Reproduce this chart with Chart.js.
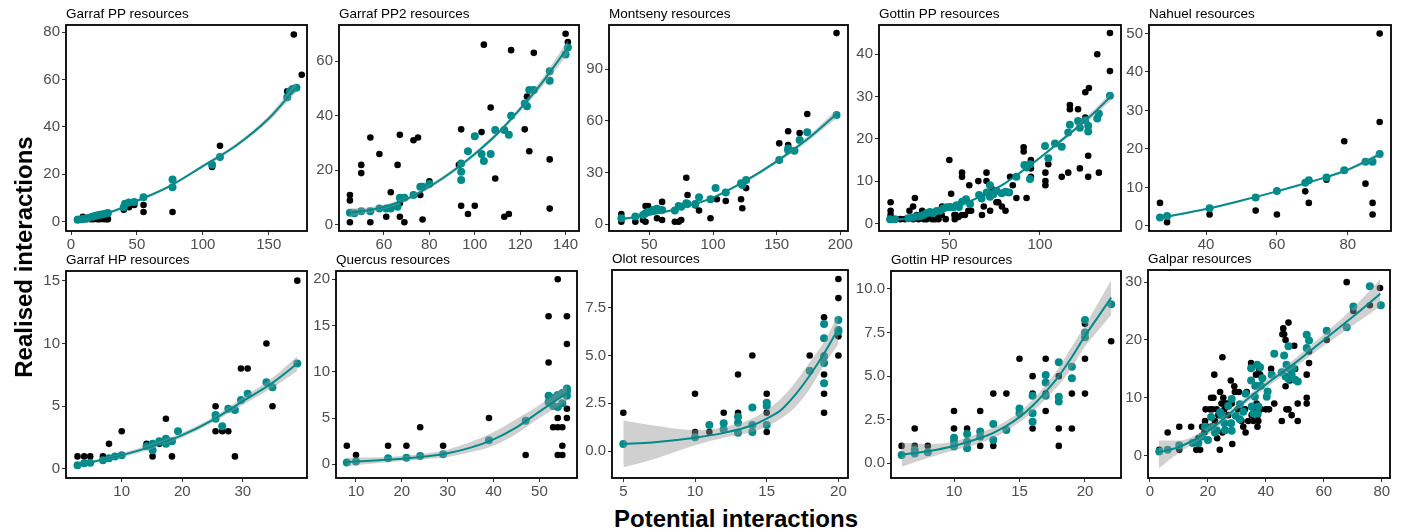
<!DOCTYPE html>
<html><head><meta charset="utf-8">
<script src="https://cdn.jsdelivr.net/npm/chart.js@4.4.0/dist/chart.umd.min.js"></script>
<style>
html,body{margin:0;padding:0;background:#fff;}
#wrap{position:relative;width:1406px;height:532px;overflow:hidden;font-family:"Liberation Sans",Arial,sans-serif;}
canvas{position:absolute;}
.ttl{position:absolute;font-size:13.5px;line-height:13px;color:#000;white-space:nowrap;}
.axt{position:absolute;font-size:24px;font-weight:bold;line-height:24px;white-space:nowrap;text-align:center;color:#000;}
</style></head><body><div id="wrap"></div>
<script>
// ---------- DATA ----------
const titles = ["Garraf PP resources","Garraf PP2 resources","Montseny resources","Gottin PP resources","Nahuel resources",
                "Garraf HP resources","Quercus resources","Olot resources","Gottin HP resources","Galpar resources"];

// Garraf PP
const p1Obs = [[169,79],[175,62],[164,55],[113,32],[107,23],[77,4],[55,7],[55,4],[44,6],[40,5],[48,7],[9,2],[12,1],[15,1],[17,1],[20,1],[22,1],[25,1],[27,1],[28,1],[5,1],[10,1]];
const p1Fit = [[5,0.7],[8,1],[10,1.2],[13,1.5],[16,2],[18,2.3],[20,2.6],[22,2.9],[24,3.1],[26,3.3],[28,3.6],[40,6],[41,7.5],[44,8],[48,8.3],[55,10.3],[77,17.8],[77,14.5],[107,24],[113,27.2],[164,52.5],[166,55],[168,56],[171,56.5]];
const p1LineX = [5,20,35,50,75,100,125,150,171];
const p1LineY = [0.8,2.5,5,8.7,15,23.4,32,43.5,56.8];
const p1RibLo = [0.5,2.2,4.6,8.2,14.4,22.7,31.2,42.3,54.8];
const p1RibHi = [1.1,2.8,5.4,9.2,15.6,24.1,32.8,44.7,58.8];
const p1XTicks = [0,50,100,150], p1YTicks = [0,20,40,60,80];

// Garraf PP2
const p2Obs = [[45,11],[45,9],[45,1],[50,22],[50,19],[54,32],[54,1],[58,26],[61,3],[63,12],[66,22],[67,33],[67,3],[67,8],[69,1],[73,31],[75,32],[76,11],[77,2],[80,16],[93,22],[94,35],[94,7],[97,4],[100,7],[103,34],[104,66],[107,43],[109,17],[113,3],[115,4],[116,64],[122,35],[123,47],[124,27],[126,63],[133,24],[133,6],[140,70],[141,67]];
const p2Fit = [[45,4.5],[47,4.3],[50,5],[54,5],[58,6],[61,6],[63,6],[66,6.7],[67,10],[69,10],[73,11],[76,14],[77,14],[80,15],[94,19.5],[94,22.5],[94,16.5],[97,27],[100,32.5],[103,26],[104,23.4],[107,26],[109,34.8],[113,34.8],[115,33],[116,40],[122,44.5],[123,43.5],[124,49.4],[126,49.4],[133,56.3],[133,52.8],[140,62.4],[141,65]];
const p2LineX = [45,50,60,70,80,90,100,110,120,130,141];
const p2LineY = [4.5,5,6.6,9.5,14,19.5,26,33.5,42.5,52.5,65];
const p2RibLo = [3.0,3.8,5.8,8.8,13.3,18.8,25.3,32.7,41.5,51,62.5];
const p2RibHi = [6.0,6.2,7.4,10.2,14.7,20.2,26.7,34.3,43.5,54,67.5];
const p2XTicks = [60,80,100,120,140], p2YTicks = [0,20,40,60];

// Montseny
const p3Obs = [[28,6],[28,1.5],[39,1.5],[45,4.5],[45,2.5],[47,10.6],[49,10.6],[47,1.5],[56,3.5],[60,13],[60,2.5],[70,1.5],[73,1.5],[75,2.5],[79,27],[80,17],[86,11],[89,8],[98,3.5],[103,14.5],[110,13.5],[122,14.5],[123,9.3],[126,21],[152,47],[159,54],[159,46],[168,53],[174,64],[197,111]];
const p3Fit = [[28,3.5],[39,4.5],[45,5.4],[47,6.4],[49,7.3],[53,8.3],[56,9],[60,8.3],[70,8],[73,10.6],[75,10.2],[79,12.2],[80,11.8],[86,11.8],[89,15.7],[98,14.5],[102,21],[110,18.4],[122,23.8],[123,22.8],[126,25.7],[152,37.3],[159,44],[159,43],[164,42.7],[168,49],[174,53.4],[197,63.4]];
const p3LineX = [28,50,75,100,125,150,175,197];
const p3LineY = [3,5.5,9.5,15.5,25,36.5,50,64];
const p3RibLo = [2.2,5,9,15,24.2,35.5,48.5,61.5];
const p3RibHi = [3.8,6,10,16,25.8,37.5,51.5,66.5];
const p3XTicks = [50,100,150,200], p3YTicks = [0,30,60,90];

// Gottin PP
const p4Obs = [[17.6,5],[17.6,3],[17.6,2],[23,1],[25.5,1],[28,3],[30,4],[31,6],[30,1],[32,2],[33,1],[35,3],[36,1],[36.6,2],[37.5,1],[39,2],[40.6,1],[42,1],[43,2],[44,1],[45.8,2],[46,4],[48,1],[50,15],[51,7],[52.8,2],[53,1],[53.5,2],[55,4],[55,1.5],[57,2],[57,12],[57,11],[58.6,2],[60.5,3],[61,9],[62,3],[66,10],[68,2],[69,4],[70.5,12],[70.5,10],[72.5,3],[74,8],[76,5],[77,5],[79,4],[81,3],[83.5,11],[85,9],[87,6],[91,18],[91,17],[92.6,6],[95,15],[95,13],[95,11],[103,9],[103,10],[103,12],[104.6,14],[112,11],[115.6,12],[116.5,28],[116.5,27],[121,27],[122,13],[125,25],[125,31],[127,32],[126.6,16],[126.6,11],[131.6,40],[132.5,12],[138.6,45],[138.6,36]];
const p4Fit = [[17.3,1],[20,1],[27.4,1.2],[29.6,1.4],[32,1.6],[33.8,1.7],[35.7,2],[37.5,2.4],[39.3,2.7],[41,2.4],[43,2.9],[44.9,3],[46.7,3.5],[48.5,3.8],[50.4,3.9],[52.2,3.8],[54,4.3],[55.3,3.9],[57,5.1],[59.2,5.7],[61.4,4.6],[66.4,6.7],[67.8,5.9],[70.6,7.3],[72.4,9],[72.4,6.3],[74.3,6.9],[76,7.7],[78.9,7.1],[81,7.5],[83,7.3],[87,11],[91.4,13.8],[92.6,13.2],[94.5,14],[94.5,10.5],[102.8,18.3],[104.6,15.4],[108.3,18.9],[112,18.1],[115.6,21.5],[116.5,23.3],[121,24.2],[122,22.6],[125,24.4],[126.6,21.7],[126.6,23.1],[131.6,24.8],[132.5,25.9],[138.6,30.2]];
const p4LineX = [17,30,40,50,60,70,80,90,100,110,120,130,139];
const p4LineY = [0.8,1.3,2.2,3.5,5,7,9.3,12.3,15.5,19,22.5,26.2,30];
const p4RibLo = [0.5,1.1,2,3.3,4.8,6.8,9.1,12.1,15.2,18.6,22,25.5,29];
const p4RibHi = [1.1,1.5,2.4,3.7,5.2,7.2,9.5,12.5,15.8,19.4,23,26.9,31];
const p4XTicks = [50,100], p4YTicks = [0,10,20,30,40];

// Nahuel
const p5Obs = [[27,6],[29,1],[41,3],[54,4],[60,3],[68,9],[69,6],[74,12],[79,22],[85,11],[87,6],[87,3],[89,27],[89,50]];
const p5Fit = [[27,2.2],[29,2.6],[41,4.6],[54,7.4],[60,9.1],[68,11.2],[69,11.9],[74,12.6],[79,14.5],[85,16.7],[87,16.7],[89,18.7]];
const p5LineX = [27,40,50,60,70,80,89];
const p5LineY = [2.1,4.4,6.6,9,11.6,14.6,18.6];
const p5RibLo = [1.8,4.2,6.4,8.8,11.4,14.3,18];
const p5RibHi = [2.4,4.6,6.8,9.2,11.8,14.9,19.2];
const p5XTicks = [40,60,80], p5YTicks = [0,10,20,30,40,50];

// Garraf HP
const p6Obs = [[2.7,1],[3.8,1],[4.8,1],[6.9,1],[7.9,2],[10,3],[14.1,2],[15.1,1],[16.2,2],[17.3,4],[18.3,1],[25.5,5],[25.5,3],[26.6,3],[27.6,3],[28.7,1],[29.7,8],[30.8,8],[33.9,10],[34.9,5],[39,15]];
const p6Fit = [[2.7,0.3],[3.8,0.45],[4.8,0.5],[6.9,0.7],[7.9,0.85],[8.9,1],[10,1.1],[14.1,1.8],[15.1,1.5],[15.1,2],[16.2,2.2],[17.3,2.4],[17.3,2],[18.3,2.2],[19.3,3],[25.5,4],[25.5,4.3],[26.6,3.4],[27.6,4.8],[28.7,4.7],[29.7,5.5],[30.8,6],[33.9,6.9],[34.9,6.5],[39,8.4]];
const p6LineX = [2.7,10,15,20,25,30,35,39];
const p6LineY = [0.3,1.1,1.8,2.7,3.9,5.4,6.9,8.4];
const p6RibLo = [0.2,0.95,1.6,2.5,3.7,5.1,6.5,7.8];
const p6RibHi = [0.4,1.25,2.0,2.9,4.1,5.7,7.3,9.0];
const p6XTicks = [10,20,30], p6YTicks = [0,5,10,15];

// Quercus
const p7Obs = [[8,2],[10,1],[17,2],[21,2],[24,4],[29,2],[39,5],[47,1],[52,11],[52,16],[54,20],[53,4],[54,5],[54,4],[54,1],[55,4],[55,2],[55,1],[56,16],[56,13],[56,6],[56,5]];
const p7Fit = [[8,0.2],[10,0.3],[17,0.65],[21,0.7],[24,0.9],[29,1.1],[39,2.6],[47,4.7],[52,7.4],[52,6.7],[53,6.3],[53,7.2],[54,7.5],[54,6.2],[55,7.7],[55,6.6],[56,8.2],[56,7.4],[56,7.9]];
const p7LineX = [8,15,20,25,30,35,40,45,50,56];
const p7LineY = [0.25,0.45,0.6,0.85,1.2,1.8,2.7,4.0,5.7,7.7];
const p7RibLo = [-0.2,0.15,0.35,0.55,0.8,1.3,2.0,3.3,5.0,6.8];
const p7RibHi = [0.7,0.75,0.9,1.15,1.6,2.4,3.5,4.9,6.4,8.6];
const p7XTicks = [10,20,30,40,50], p7YTicks = [0,5,10,15,20];

// Olot
const p8Obs = [[5,2],[10,3],[10,1],[11,1],[12,2],[13,4],[13,2],[14,5],[15,3],[15,2],[15,1],[18,5],[19,7],[19,5],[19,4],[19,3],[19,2],[20,9],[20,8],[20,6],[20,5]];
const p8Fit = [[5,0.37],[10,0.72],[11,1.36],[12,1.45],[12,1.13],[13,1.8],[13,1.48],[13,0.96],[14,2.28],[14,1.36],[14,1.0],[15,2.53],[15,2.35],[15,1.36],[18,4.2],[19,6.65],[19,5.9],[19,4.94],[19,4.6],[19,3.54],[20,6.86],[20,6.33],[20,6.25]];
const p8LineX = [5,7,10,12,14,15,16,17,18,19,20];
const p8LineY = [0.37,0.45,0.7,0.95,1.35,1.7,2.15,2.95,3.95,5.1,6.4];
const p8RibLo = [-0.85,-0.45,0.3,0.7,1.0,1.3,1.7,2.3,3.25,4.5,5.6];
const p8RibHi = [1.6,1.35,1.1,1.25,1.7,2.15,2.75,3.6,4.65,5.7,7.2];
const p8XTicks = [5,10,15,20], p8YTicks = [0,2.5,5,7.5];

// Gottin HP
const p9Obs = [[6,1],[7,2],[7,1],[8,1],[10,3],[10,2],[11,2],[12,3],[12,1],[13,4],[13,1],[14,4],[15,6],[16,5],[16,4],[16,2],[17,6],[17,4],[17,3],[18,5],[18,2],[18,1],[19,4],[19,2],[20,8],[20,6],[20,4],[22,7]];
const p9Fit = [[6,0.48],[7,0.57],[7,0.76],[8,0.63],[10,0.96],[10,1.24],[10,1.47],[11,0.86],[11,1.24],[11,1.68],[12,1.53],[12,1.82],[13,1.34],[13,2.26],[14,1.91],[15,3.15],[15,2.87],[16,3.88],[16,2.87],[16,2.39],[17,5.07],[17,4.63],[17,3.88],[18,5.8],[18,3.82],[18,3.54],[19,5.54],[19,4.88],[20,8.22],[20,7.51],[20,7.23],[22,9.12]];
const p9LineX = [6,8,10,12,13,14,15,16,17,18,19,20,21,22];
const p9LineY = [0.5,0.7,1.0,1.45,1.75,2.15,2.65,3.3,4.1,5.0,6.1,7.3,8.4,9.5];
const p9RibLo = [-0.2,0.3,0.75,1.15,1.45,1.85,2.35,2.95,3.7,4.5,5.5,6.7,7.6,8.5];
const p9RibHi = [1.2,1.1,1.25,1.75,2.05,2.45,2.95,3.65,4.5,5.5,6.7,7.9,9.2,10.5];
const p9XTicks = [10,15,20], p9YTicks = [0,2.5,5,7.5,10];

// Galpar
const p10Obs = [[3.2,1],[6.1,4],[10.1,5],[10.1,1],[14.2,5],[16.7,3],[18,5],[16,1],[17.3,1],[18.8,4],[19,6],[19.2,8],[19.9,5],[20.7,8],[21.1,10],[21.5,8],[21.9,10],[22.2,14],[22.4,6],[23,8],[23.2,3],[23.6,7],[24.1,1],[24.2,11],[24.7,9],[25,17],[25,4],[25.3,10],[25.7,8],[25.9,9],[26.5,9],[27,7],[27.9,13],[28.2,9],[28.4,2],[29.1,12],[29.3,11],[30.3,8],[30.7,11],[31.6,6],[32.2,5],[32.8,8],[33,4],[33.4,11],[33.9,6],[34.9,16],[35.1,7],[35.7,6],[35.9,8],[36.2,12],[36.6,14],[36.8,9],[37.1,5],[37.2,7],[37.4,6],[37.6,15],[38,14],[38.3,8],[40,8],[41.1,8],[41.8,15],[42.9,9],[45.5,6],[45.7,21],[46.3,21],[46,22],[46.8,20],[46.8,12],[47.1,8],[47.8,8],[47.8,23],[48.3,13],[48.9,7],[49.8,19],[50.1,15],[51,9],[51,6],[54.1,10],[54.1,9],[54.1,14],[54.9,16],[54.9,18],[61,20],[67.9,30],[70.2,25],[75.9,26],[79.4,29]];
const p10Fit = [[3.2,0.7],[6.1,1],[10.1,1.8],[14.7,2.2],[16.7,2.2],[18,3.3],[19,5],[20,2.7],[21.1,6.7],[21.5,5],[22.4,4],[23,4.4],[24.2,7.5],[24.7,7],[25.7,5.6],[25.9,4.4],[27,8.6],[28,5.6],[28.2,4.3],[28.2,9.8],[29.6,6.9],[31,8.9],[31,6.3],[32.2,7.6],[33,10.7],[34.9,15.1],[34.9,13],[35.1,8.5],[35.7,7.3],[36.2,10.2],[36.6,12.1],[37,15.7],[37.2,7.3],[37.4,8.5],[38,15.3],[38.3,12.1],[38.8,13.4],[40.3,10.2],[40.6,11.1],[42,14],[42.9,17.6],[45.5,14.4],[46.3,17.3],[46.8,13.7],[47.1,15.7],[47.8,18.9],[47.8,13.3],[48.3,15],[48.9,14],[49.5,15.1],[50.1,13.1],[51,12.8],[54.1,20.9],[54.1,18.6],[54.9,19.9],[61,21.6],[67.9,22.2],[70.2,25.8],[75.9,29.3],[79.7,26]];
const p10LineX = [3,10,20,30,40,50,60,70,79.5];
const p10LineY = [0.6,1.5,4.2,8.3,12.3,16,20,24,28];
const p10RibLo = [-2.2,0.5,3.6,7.8,11.7,15.3,19,22.5,25.8];
const p10RibHi = [2.6,2.6,4.9,8.8,12.9,16.8,21,25.5,30.5];
const p10XTicks = [0,20,40,60,80], p10YTicks = [0,10,20,30];

// axis limits [xmin,xmax,ymin,ymax]
const limits = [
  [-3.8,179,-4,83],[40.2,145.9,-2.2,73.2],[18.3,206,-3.9,115.7],[11.2,144.7,-1.8,46.9],[23.9,92.2,-1.3,52.2],
  [0.8,40.6,-0.72,15.77],[5.64,58.2,-1.48,20.9],[4.21,20.67,-1.41,9.47],[5.19,22.75,-0.84,11.03],[-0.69,82.85,-3.87,32.1]
];
const yDecimals = [0,0,0,0,0,0,0,1,1,0];

// ---------- LAYOUT (panel boxes L,T,R,B) ----------
const boxes = [
  [66,25,307,231],[339,25,579,231],[609,25,848,231],[879,25,1121,231],[1149,25,1391,231],
  [66,271,307,478],[336,271,577,478],[612,270,848,478],[891,271,1121,478],[1148,270,1390,478]
];
const TEAL = '#008b8b';
const FONT = '"Liberation Sans", Arial, sans-serif';
const WY = 44, HX = 26, PT = 12, PR = 24;

const panels = [
  [p1Obs,p1Fit,p1LineX,p1LineY,p1RibLo,p1RibHi,p1XTicks,p1YTicks],
  [p2Obs,p2Fit,p2LineX,p2LineY,p2RibLo,p2RibHi,p2XTicks,p2YTicks],
  [p3Obs,p3Fit,p3LineX,p3LineY,p3RibLo,p3RibHi,p3XTicks,p3YTicks],
  [p4Obs,p4Fit,p4LineX,p4LineY,p4RibLo,p4RibHi,p4XTicks,p4YTicks],
  [p5Obs,p5Fit,p5LineX,p5LineY,p5RibLo,p5RibHi,p5XTicks,p5YTicks],
  [p6Obs,p6Fit,p6LineX,p6LineY,p6RibLo,p6RibHi,p6XTicks,p6YTicks],
  [p7Obs,p7Fit,p7LineX,p7LineY,p7RibLo,p7RibHi,p7XTicks,p7YTicks],
  [p8Obs,p8Fit,p8LineX,p8LineY,p8RibLo,p8RibHi,p8XTicks,p8YTicks],
  [p9Obs,p9Fit,p9LineX,p9LineY,p9RibLo,p9RibHi,p9XTicks,p9YTicks],
  [p10Obs,p10Fit,p10LineX,p10LineY,p10RibLo,p10RibHi,p10XTicks,p10YTicks]
];

const boxPlugin = {
  id:'box',
  afterDraw(chart){
    const a = chart.chartArea, ctx = chart.ctx;
    ctx.save(); ctx.strokeStyle = '#000'; ctx.lineWidth = 1.8;
    ctx.strokeRect(a.left, a.top, a.right - a.left, a.bottom - a.top);
    ctx.restore();
  }
};

const wrap = document.getElementById('wrap');
const pts = (arr) => arr.map(p => ({x:p[0], y:p[1]}));
const zip = (xs, ys) => xs.map((x,i) => ({x:x, y:ys[i]}));

panels.forEach((p, i) => {
  const [obs, fit, lx, ly, lo, hi, xt, yt] = p;
  const [L,T,R,B] = boxes[i];
  const lim = limits[i];
  const w = (R-L) + WY + PR, h = (B-T) + HX + PT;
  const c = document.createElement('canvas');
  c.width = w; c.height = h;
  c.style.left = (L - WY) + 'px'; c.style.top = (T - PT) + 'px';
  c.style.width = w + 'px'; c.style.height = h + 'px';
  wrap.appendChild(c);

  const t = document.createElement('div');
  t.className = 'ttl'; t.textContent = titles[i];
  t.style.left = L + 'px'; t.style.top = (T - 18) + 'px';
  wrap.appendChild(t);

  const dec = yDecimals[i];
  const tickFont = {size:15, family:FONT};
  new Chart(c, {
    type:'scatter',
    data:{datasets:[
      {type:'line', data:zip(lx,ly), borderColor:TEAL, borderWidth:2, pointRadius:0, pointHoverRadius:0, cubicInterpolationMode:'monotone', fill:false, order:0},
      {type:'line', data:zip(lx,hi), borderWidth:0, borderColor:'rgba(0,0,0,0)', pointRadius:0, pointHoverRadius:0, cubicInterpolationMode:'monotone', fill:'+1', backgroundColor:'rgba(150,150,150,0.45)', order:1},
      {type:'line', data:zip(lx,lo), borderWidth:0, borderColor:'rgba(0,0,0,0)', pointRadius:0, pointHoverRadius:0, cubicInterpolationMode:'monotone', fill:false, order:2},
      {data:pts(fit), backgroundColor:TEAL, borderWidth:0, pointRadius:4, pointHoverRadius:4, order:3},
      {data:pts(obs), backgroundColor:'#000', borderWidth:0, pointRadius:3.3, pointHoverRadius:3.3, order:4}
    ]},
    options:{
      responsive:false, animation:false, devicePixelRatio:1,
      layout:{padding:{top:PT, right:PR, left:0, bottom:0}, autoPadding:false},
      plugins:{legend:{display:false}, tooltip:{enabled:false}, title:{display:false}},
      events:[],
      scales:{
        x:{type:'linear', position:'bottom', min:lim[0], max:lim[1],
           afterBuildTicks:(s)=>{ s.ticks = xt.map(v=>({value:v})); },
           afterFit:(s)=>{ s.height = HX; },
           ticks:{color:'#4d4d4d', font:tickFont, padding:1, maxRotation:0, autoSkip:false, callback:(v)=>String(v)},
           grid:{display:true, drawOnChartArea:false, drawTicks:true, tickLength:4, color:'#333333', lineWidth:1},
           border:{display:false}},
        y:{type:'linear', position:'left', min:lim[2], max:lim[3],
           afterBuildTicks:(s)=>{ s.ticks = yt.map(v=>({value:v})); },
           afterFit:(s)=>{ s.width = WY; },
           ticks:{color:'#4d4d4d', font:tickFont, padding:2, autoSkip:false, callback:(v)=>Number(v).toFixed(dec)},
           grid:{display:true, drawOnChartArea:false, drawTicks:true, tickLength:4, color:'#333333', lineWidth:1},
           border:{display:false}}
      }
    },
    plugins:[boxPlugin]
  });
});

// axis titles
const xt = document.createElement('div');
xt.className = 'axt'; xt.textContent = 'Potential interactions';
xt.style.left = '436px'; xt.style.width = '600px'; xt.style.top = '507px';
wrap.appendChild(xt);
const yt = document.createElement('div');
yt.className = 'axt'; yt.textContent = 'Realised interactions';
yt.style.width = '300px'; yt.style.height = '24px';
yt.style.left = (24 - 150) + 'px'; yt.style.top = (257 - 12) + 'px';
yt.style.transform = 'rotate(-90deg)';
wrap.appendChild(yt);
</script></body></html>
